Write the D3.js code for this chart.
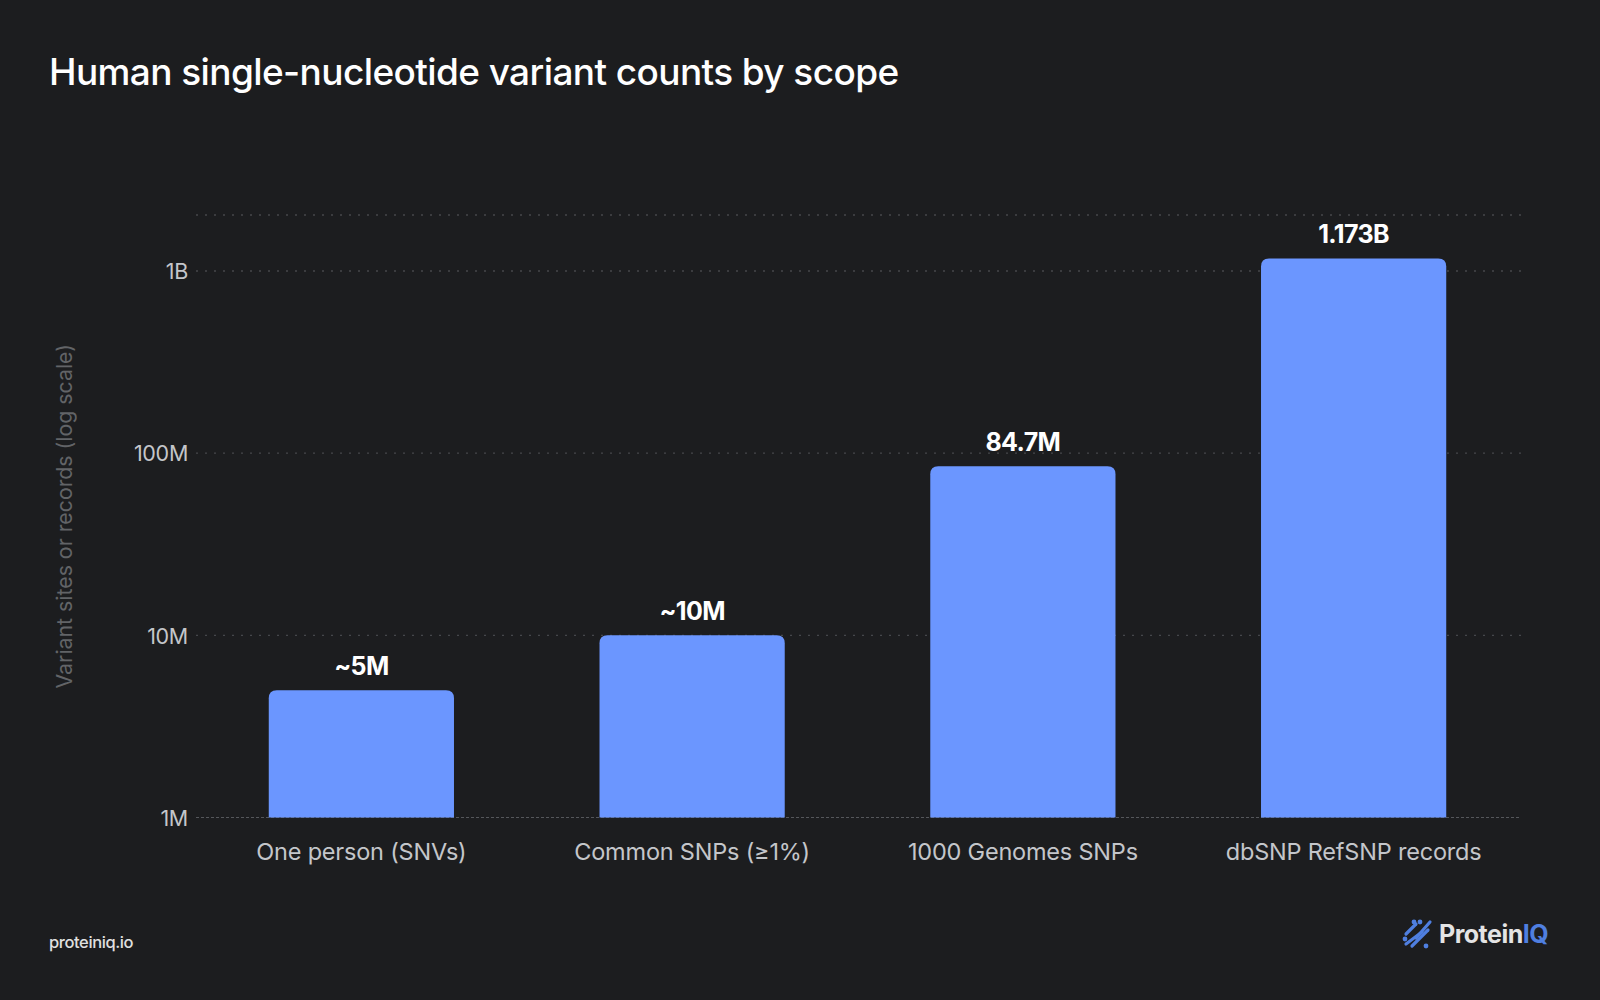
<!DOCTYPE html>
<html>
<head>
<meta charset="utf-8">
<script src="https://cdn.jsdelivr.net/npm/d3@7"></script>
<style>
html,body{margin:0;padding:0;background:#1c1d1f;}
svg{display:block;font-family:Inter,"Noto Sans",sans-serif;}
</style>
</head>
<body>
<svg id="chart" width="1600" height="1000"></svg>
<script>
const categories = ["One person (SNVs)", "Common SNPs (\u22651%)", "1000 Genomes SNPs", "dbSNP RefSNP records"];
const values = [5e6, 10e6, 84.7e6, 1.173e9];
const valueLabels = ["~5M", "~10M", "84.7M", "1.173B"];
const tickValues = [1e6, 1e7, 1e8, 1e9];
const tickLabels = ["1M", "10M", "100M", "1B"];
const yDomain = [1e6, 2.03e9];

const svg = d3.select("#chart");
const W = 1600, H = 1000;
const m = {left: 196, right: 81, top: 215, bottom: 182.5};

svg.append("rect").attr("width", W).attr("height", H).attr("fill", "#1c1d1f");

const x = d3.scaleBand().domain(categories).range([m.left, W - m.right]).paddingInner(0.44).paddingOuter(0.22);
const y = d3.scaleLog().domain(yDomain).range([H - m.bottom, m.top]);

// title
svg.append("text").attr("x", 49).attr("y", 85)
  .attr("fill", "#ffffff").attr("font-size", 37).attr("font-weight", 500)
  .attr("letter-spacing", -0.6)
  .text("Human single-nucleotide variant counts by scope");

// gridlines
const grid = svg.append("g");
grid.selectAll("line").data(tickValues.slice(1).concat([yDomain[1]])).join("line")
  .attr("x1", m.left).attr("x2", W - m.right + 6)
  .attr("y1", d => y(d)).attr("y2", d => y(d))
  .attr("stroke", "#45474b").attr("stroke-width", 1.3).attr("stroke-dasharray", "2,7");

// y axis
const yAxis = d3.axisLeft(y).tickValues(tickValues).tickFormat((d, i) => tickLabels[i]).tickSize(0).tickPadding(8);
const yg = svg.append("g").attr("transform", `translate(${m.left},0)`).call(yAxis);
yg.select(".domain").remove();
yg.selectAll("text").attr("fill", "#c4c6ca").attr("font-size", 21.5).attr("letter-spacing", -0.3).attr("font-family", "Inter,sans-serif").attr("dy", "0.36em");

// baseline
svg.append("line").attr("x1", m.left).attr("x2", W - m.right)
  .attr("y1", y(1e6)).attr("y2", y(1e6))
  .attr("stroke", "#55575b").attr("stroke-width", 1.2).attr("stroke-dasharray", "3,2");

// bars with rounded top
const r = 8;
function barPath(d, i) {
  const x0 = x(categories[i]), w = x.bandwidth();
  const yt = y(d), yb = y(yDomain[0]);
  return `M${x0},${yb}V${yt + r}Q${x0},${yt} ${x0 + r},${yt}H${x0 + w - r}Q${x0 + w},${yt} ${x0 + w},${yt + r}V${yb}Z`;
}
svg.append("g").selectAll("path").data(values).join("path")
  .attr("d", barPath).attr("fill", "#6b96ff");

// value labels
svg.append("g").selectAll("text").data(values).join("text")
  .attr("x", (d, i) => x(categories[i]) + x.bandwidth() / 2)
  .attr("y", d => y(d) - 15)
  .attr("text-anchor", "middle").attr("fill", "#ffffff")
  .attr("font-size", 25).attr("font-weight", 700).attr("letter-spacing", -0.6)
  .text((d, i) => valueLabels[i]);

// x axis
const xAxis = d3.axisBottom(x).tickSize(0).tickPadding(26);
const xg = svg.append("g").attr("transform", `translate(0,${y(1e6)})`).call(xAxis);
xg.select(".domain").remove();
xg.selectAll("text").attr("fill", "#c4c6ca").attr("font-size", 23.5).attr("letter-spacing", -0.2).attr("font-family", "Inter,sans-serif");

// y title
svg.append("text").attr("transform", `translate(72,${(y(yDomain[0]) + y(yDomain[1])) / 2 + 0}) rotate(-90)`)
  .attr("text-anchor", "middle").attr("fill", "#626467").attr("font-size", 21.3)
  .text("Variant sites or records (log scale)");

// footer
svg.append("text").attr("x", 49).attr("y", 948).attr("fill", "#e0e0e0")
  .attr("font-size", 16.5).attr("font-weight", 500).attr("letter-spacing", -0.4).text("proteiniq.io");

// logo
const lg = svg.append("g").attr("transform", "translate(1418,934)");
const blue = "#4f7fe0";
[[-12, 10, 4, -2], [-6, 12, 10, -4], [-2, 4, 12, -12], [-12, 0, -2, -10]].forEach(s => {
  lg.append("line").attr("x1", s[0]).attr("y1", s[1]).attr("x2", s[2]).attr("y2", s[3])
    .attr("stroke", blue).attr("stroke-width", 3.2).attr("stroke-linecap", "round");
});
[[-4, -12], [2, -12], [8, 12], [-13, 5]].forEach(p => {
  lg.append("circle").attr("cx", p[0]).attr("cy", p[1]).attr("r", 2.4).attr("fill", blue);
});
const lt = svg.append("text").attr("x", 1439).attr("y", 943).attr("font-size", 25).attr("font-weight", 700).attr("letter-spacing", -0.5);
lt.append("tspan").attr("fill", "#e4e4e4").text("Protein");
lt.append("tspan").attr("fill", blue).text("IQ");
</script>
</body>
</html>
